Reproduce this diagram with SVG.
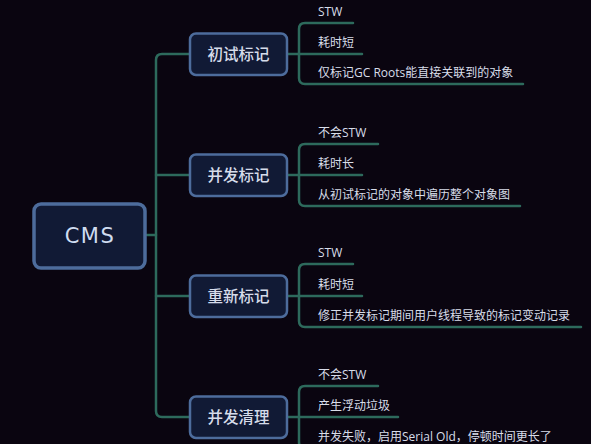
<svg xmlns="http://www.w3.org/2000/svg" width="591" height="444" viewBox="0 0 591 444">
<style>
.bg{fill:#0a0510}
.conn path{fill:none;stroke:#2d6a5c;stroke-width:2.5;stroke-linecap:round}
.root rect{fill:#111a35;stroke:#4d6c9c;stroke-width:3.5}
.n1 rect{fill:#111a35;stroke:#4d6c9c;stroke-width:2.5}
.rt{font-family:"DejaVu Sans","Noto Sans CJK SC",sans-serif;font-size:21px;letter-spacing:1.5px;fill:#cfdcf0;text-anchor:middle}
.t1{font-family:"Open Sans","Noto Sans CJK SC",sans-serif;font-size:15.5px;font-weight:500;fill:#d6dcea;text-anchor:middle}
.t2{font-family:"Open Sans","Noto Sans CJK SC",sans-serif;font-size:12px;fill:#d8dde9}
</style>
<rect class="bg" x="0" y="0" width="591" height="444"/>
<g class="conn" id="connectors">
<path d="M147 235 H156"/>
<path d="M189 54 H162 Q156 54 156 60 V411 Q156 417 162 417 H189"/>
<path d="M156 175 H189"/>
<path d="M156 296 H189"/>
<path d="M353 23 H305 Q299 23 299 29 V78 Q299 84 305 84 H523"/>
<path d="M288 54 H362"/>
<path d="M378 144 H305 Q299 144 299 150 V200 Q299 206 305 206 H520"/>
<path d="M288 175 H362"/>
<path d="M353 264 H305 Q299 264 299 270 V321 Q299 327 305 327 H581"/>
<path d="M288 296 H362"/>
<path d="M378 386 H305 Q299 386 299 392 V442 Q299 448 305 448 H600"/>
<path d="M288 417 H398"/>
</g>
<g id="cms" class="root"><rect x="34" y="204" width="111" height="64" rx="7"/><text class="rt" x="90" y="243">CMS</text></g>
<g id="n-chushi" class="n1"><rect x="190" y="33.5" width="97" height="41.5" rx="6"/><text class="t1" x="238.5" y="59.5">初试标记</text></g>
<g id="n-bingfa" class="n1"><rect x="190" y="154.5" width="97" height="41.5" rx="6"/><text class="t1" x="238.5" y="180.5">并发标记</text></g>
<g id="n-chongxin" class="n1"><rect x="190" y="275.5" width="97" height="41.5" rx="6"/><text class="t1" x="238.5" y="301.5">重新标记</text></g>
<g id="n-qingli" class="n1"><rect x="190" y="396.5" width="97" height="41.5" rx="6"/><text class="t1" x="238.5" y="422.5">并发清理</text></g>
<g id="leaves-1"><text class="t2" x="318" y="16">STW</text><text class="t2" x="318" y="47">耗时短</text><text class="t2" x="318" y="77">仅标记GC Roots能直接关联到的对象</text></g>
<g id="leaves-2"><text class="t2" x="318" y="137">不会STW</text><text class="t2" x="318" y="168">耗时长</text><text class="t2" x="318" y="199">从初试标记的对象中遍历整个对象图</text></g>
<g id="leaves-3"><text class="t2" x="318" y="257">STW</text><text class="t2" x="318" y="289">耗时短</text><text class="t2" x="318" y="320">修正并发标记期间用户线程导致的标记变动记录</text></g>
<g id="leaves-4"><text class="t2" x="318" y="379">不会STW</text><text class="t2" x="318" y="410">产生浮动垃圾</text><text class="t2" x="318" y="441">并发失败，启用Serial Old，停顿时间更长了</text></g>
</svg>
